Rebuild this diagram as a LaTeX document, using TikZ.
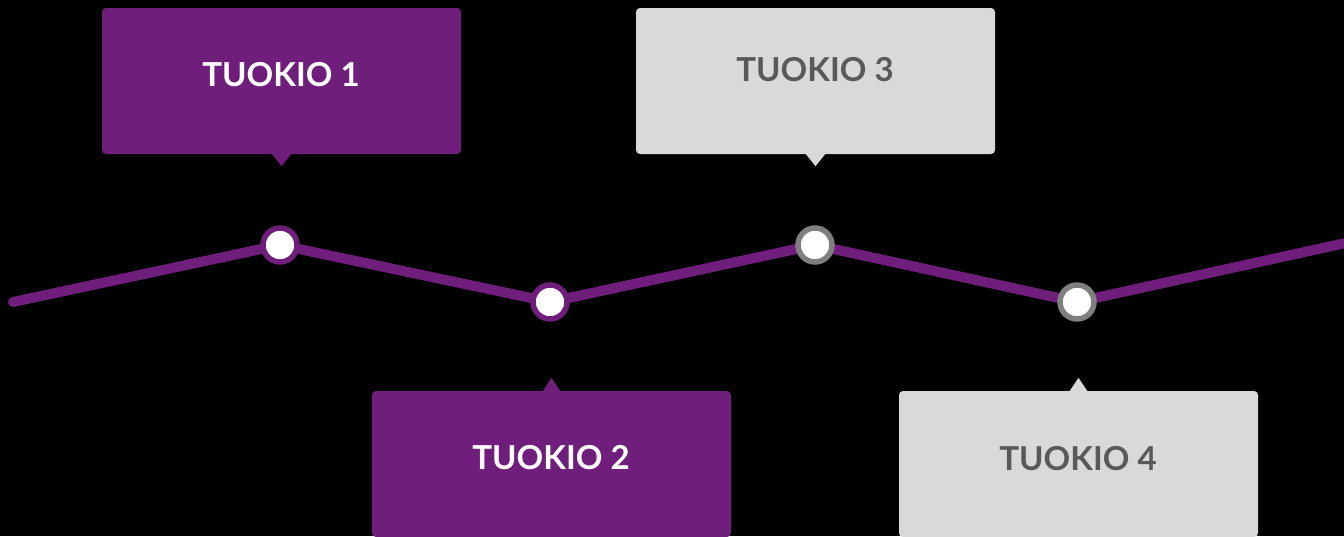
\documentclass[tikz,border=0pt]{standalone}
\usepackage{fontspec}
\setmainfont{Lato}
\definecolor{tlpurple}{HTML}{6F1E7C}
\definecolor{tlgrey}{HTML}{D9D9D9}
\definecolor{tlring}{HTML}{7F7F7F}
\definecolor{tltext}{HTML}{595959}
\begin{document}
\begin{tikzpicture}[x=1pt,y=-1pt,
  card/.style={rounded corners=4pt, minimum width=359pt, minimum height=146pt, inner sep=0pt},
  purplecard/.style={card, fill=tlpurple},
  greycard/.style={card, fill=tlgrey},
  label/.style={font=\bfseries\fontsize{33}{33}\selectfont},
  dot/.style={circle, fill=white, line width=5.5pt, minimum size=34pt, inner sep=0pt},
  route/.style={tlpurple, line width=10pt, line cap=round, line join=round}]
  \fill[black] (0,0) rectangle (1344,536);
  \useasboundingbox (0,0) rectangle (1344,536);

  % cards
  \node[purplecard] (c1) at (281.5,81) {};
  \node[greycard]   (c3) at (815.5,81) {};
  \node[purplecard] (c2) at (551.5,464) {};
  \node[greycard]   (c4) at (1078.5,464) {};

  % pointers (shifts are in page coordinates: negative is downwards)
  \fill[tlpurple] ([xshift=-10pt,yshift=0.5pt]c1.south) -- ([xshift=10pt,yshift=0.5pt]c1.south) -- ([yshift=-12pt]c1.south) -- cycle;
  \fill[tlgrey]   ([xshift=-10pt,yshift=0.5pt]c3.south) -- ([xshift=10pt,yshift=0.5pt]c3.south) -- ([yshift=-12pt]c3.south) -- cycle;
  \fill[tlpurple] ([xshift=-9pt,yshift=-0.5pt]c2.north) -- ([xshift=9pt,yshift=-0.5pt]c2.north) -- ([yshift=13pt]c2.north) -- cycle;
  \fill[tlgrey]   ([xshift=-9pt,yshift=-0.5pt]c4.north) -- ([xshift=9pt,yshift=-0.5pt]c4.north) -- ([yshift=13pt]c4.north) -- cycle;

  % labels
  \node[label, text=white]  (t1) at (281,75)  {TUOKIO 1};
  \node[label, text=tltext] (t3) at (815,70)  {TUOKIO 3};
  \node[label, text=white]  (t2) at (551,458) {TUOKIO 2};
  \node[label, text=tltext] (t4) at (1078,459) {TUOKIO 4};

  % timeline
  \coordinate (s) at (13,302);
  \coordinate (e) at (1350,242);
  \coordinate (p1) at (280,245);
  \coordinate (p2) at (550,302);
  \coordinate (p3) at (815,245);
  \coordinate (p4) at (1077,302);
  \draw[route] (s) -- (p1) -- (p2) -- (p3) -- (p4) -- (e);

  \node[dot, draw=tlpurple] (d1) at (p1) {};
  \node[dot, draw=tlpurple] (d2) at (p2) {};
  \node[dot, draw=tlring]   (d3) at (p3) {};
  \node[dot, draw=tlring]   (d4) at (p4) {};
\end{tikzpicture}
\end{document}
